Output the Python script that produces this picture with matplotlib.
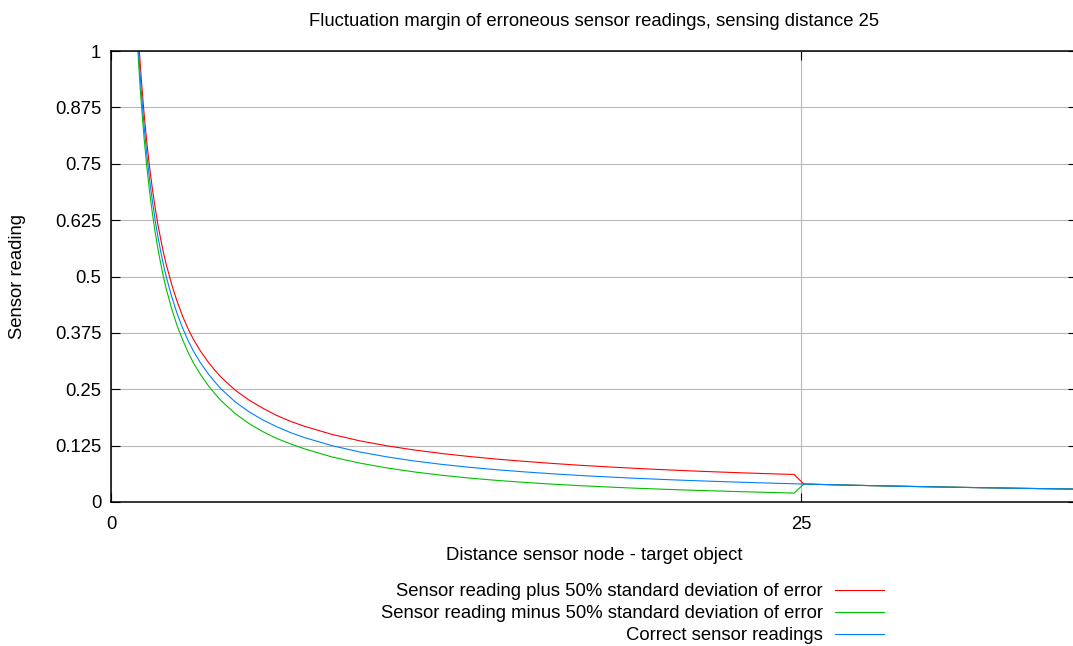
import matplotlib
matplotlib.use("Agg")
import matplotlib.pyplot as plt

plt.rcParams['font.family'] = ['Liberation Sans', 'DejaVu Sans']

# Distance sensor node - target object
distance = [0.95, 1.0, 1.05, 1.1, 1.15, 1.2, 1.3, 1.4, 1.5, 1.6, 1.7, 1.8, 1.9,
            2.0, 2.2, 2.4, 2.6, 2.8, 3.0, 3.25, 3.5, 3.75, 4.0, 4.5, 5.0, 5.5,
            6.0, 6.5, 7.0, 8.0, 9.0, 10, 11, 12, 13, 14, 15, 16, 17, 18, 19,
            20, 21, 22, 23, 24, 24.75, 25.1, 27, 29, 31, 33, 35]

# Correct sensor readings
reading = [1.053, 1.000, 0.952, 0.909, 0.870, 0.833, 0.769, 0.714, 0.667, 0.625,
           0.588, 0.556, 0.526, 0.500, 0.455, 0.417, 0.385, 0.357, 0.333, 0.308,
           0.286, 0.267, 0.250, 0.222, 0.200, 0.182, 0.167, 0.154, 0.143, 0.125,
           0.1111, 0.1000, 0.0909, 0.0833, 0.0769, 0.0714, 0.0667, 0.0625, 0.0588,
           0.0556, 0.0526, 0.0500, 0.0476, 0.0455, 0.0435, 0.0417, 0.0404, 0.0398,
           0.0370, 0.0345, 0.0323, 0.0303, 0.0286]

# Reading plus 50% standard deviation of error
upper = [1.080, 1.027, 0.979, 0.936, 0.897, 0.860, 0.796, 0.741, 0.694, 0.652,
         0.615, 0.583, 0.553, 0.527, 0.482, 0.444, 0.411, 0.383, 0.359, 0.334,
         0.312, 0.293, 0.276, 0.248, 0.226, 0.208, 0.192, 0.179, 0.168, 0.150,
         0.1358, 0.1245, 0.1152, 0.1074, 0.1008, 0.0950, 0.0900, 0.0855, 0.0814,
         0.0779, 0.0746, 0.0717, 0.0690, 0.0666, 0.0644, 0.0624, 0.0610, 0.0398,
         0.0370, 0.0345, 0.0323, 0.0303, 0.0286]

# Reading minus 50% standard deviation of error
lower = [1.026, 0.973, 0.925, 0.882, 0.843, 0.806, 0.742, 0.687, 0.640, 0.598,
         0.561, 0.529, 0.499, 0.473, 0.428, 0.390, 0.359, 0.331, 0.307, 0.282,
         0.260, 0.241, 0.224, 0.196, 0.174, 0.156, 0.141, 0.129, 0.118, 0.100,
         0.0864, 0.0755, 0.0666, 0.0592, 0.0530, 0.0478, 0.0434, 0.0395, 0.0362,
         0.0333, 0.0306, 0.0283, 0.0262, 0.0244, 0.0226, 0.0210, 0.0198, 0.0398,
         0.0370, 0.0345, 0.0323, 0.0303, 0.0286]

x_ticks = [0, 25]
y_ticks = [0, 0.125, 0.25, 0.375, 0.5, 0.625, 0.75, 0.875, 1]
y_tick_labels = ["0", "0.125", "0.25", "0.375", "0.5", "0.625", "0.75", "0.875", "1"]

W, H = 1073, 646
fig = plt.figure(figsize=(W / 100, H / 100), dpi=100)
ax = fig.add_axes([111 / W, 1 - 502 / H, (1077 - 111) / W, (502 - 51) / H])

FS = 13.3
ax.plot(distance, upper, color="#ff0000", lw=0.8,
        label="Sensor reading plus 50% standard deviation of error")
ax.plot(distance, lower, color="#00c000", lw=0.8,
        label="Sensor reading minus 50% standard deviation of error")
ax.plot(distance, reading, color="#0080ff", lw=0.8,
        label="Correct sensor readings")

ax.set_xlim(0, 35)
ax.set_ylim(0, 1)
ax.set_xticks(x_ticks)
ax.set_xticklabels([str(t) for t in x_ticks])
ax.set_yticks(y_ticks)
ax.set_yticklabels(y_tick_labels)

ax.grid(True, color="#b8b8b8", lw=0.8)
ax.set_axisbelow(True)
for sp in ax.spines.values():
    sp.set_linewidth(1.1)
    sp.set_color("black")

ax.tick_params(axis="both", which="both", direction="in", length=6.5, width=0.8,
               top=True, right=True, labelsize=FS, colors="black")
ax.tick_params(axis="y", pad=7)
ax.tick_params(axis="x", pad=10)

ax.set_title("Fluctuation margin of erroneous sensor readings, sensing distance 25",
             fontsize=FS, pad=18)
ax.set_xlabel("Distance sensor node - target object", fontsize=FS, labelpad=10)
fig.text(18 / W, 1 - 276 / H, "Sensor reading", rotation=90, fontsize=FS,
         ha="center", va="center")

leg = ax.legend(loc="upper right", bbox_to_anchor=(884 / W, 1 - 583 / H),
                bbox_transform=fig.transFigure, frameon=False, markerfirst=False,
                fontsize=FS, handlelength=2.65, handletextpad=0.65,
                labelspacing=0.27, borderpad=0, borderaxespad=0)

fig.savefig("out.png", dpi=100)
